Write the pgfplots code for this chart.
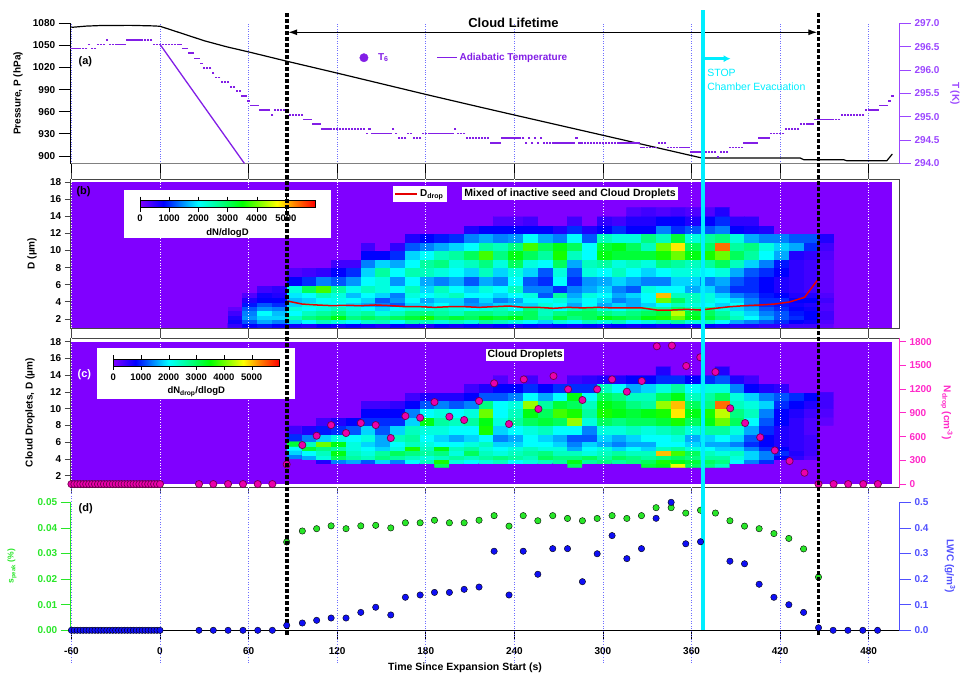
\documentclass[border=0pt]{standalone}
\usepackage{pgfplots}
\pgfplotsset{compat=1.18}
\usepackage{fontspec}
\setmainfont{Liberation Sans}
\usetikzlibrary{arrows.meta}

\definecolor{bgviolet}{RGB}{128,0,255}
\definecolor{tpurple}{RGB}{130,30,230}
\definecolor{taxis}{RGB}{155,70,255}
\definecolor{npink}{RGB}{255,40,200}
\definecolor{nfill}{RGB}{235,0,170}
\definecolor{ndark}{RGB}{110,0,80}
\definecolor{sgreen}{RGB}{40,230,40}
\definecolor{lblue}{RGB}{15,15,245}
\definecolor{lwcaxis}{RGB}{80,80,255}
\definecolor{gridblue}{RGB}{110,110,255}
\definecolor{cyanline}{RGB}{0,238,255}
\definecolor{frame}{RGB}{70,70,70}

\pgfplotsset{
  colormap={igor}{rgb255(0pt)=(128,0,255) rgb255(8pt)=(0,0,255) rgb255(14pt)=(0,128,255) rgb255(20pt)=(0,255,255) rgb255(28pt)=(0,255,128) rgb255(35pt)=(0,255,0) rgb255(47pt)=(255,255,0) rgb255(53pt)=(255,128,0) rgb255(60pt)=(255,0,0)},
  base/.style={scale only axis, width=828.3pt, xmin=-60.5, xmax=500.5,
    xtick={-60,0,60,120,180,240,300,360,420,480},
    tick align=outside,
    ticklabel style={font=\bfseries\fontsize{10}{12}\selectfont},
    /pgf/number format/assume math mode=true,
    /pgf/number format/1000 sep={},
    label style={font=\bfseries\fontsize{10}{12}\selectfont},
  },
  cbar/.style={colorbar horizontal, point meta min=0, point meta max=60},
  fix1/.style={/pgf/number format/fixed, /pgf/number format/fixed zerofill, /pgf/number format/precision=1},
  fix2/.style={/pgf/number format/fixed, /pgf/number format/fixed zerofill, /pgf/number format/precision=2},
}

\begin{document}
\begin{tikzpicture}
\useasboundingbox (0pt,0pt) rectangle (964pt,-673pt);

%%%%%%%%%%%%%%%% (a) pressure
\begin{axis}[base, at={(70.67pt,-163.5pt)}, anchor=south west, height=140.2pt,
  ymin=889.8, ymax=1080,
  axis x line*=bottom, axis y line*=left,
  x axis line style={draw=gray, line width=1.8pt},
  y axis line style={draw=black, line width=0.8pt},
  xticklabels={},
  ytick={900,930,960,990,1020,1050,1080},
  major tick length=12pt,
  tick style={black, line width=0.8pt},
  xmajorgrids, grid style={dotted, gridblue, line width=0.6pt},
  ylabel={Pressure, P (hPa)},
  ylabel style={at={(axis description cs:-0.0636,0.5)}, anchor=center},
]
\addplot[black, line width=1.2pt] coordinates {(-60,1074.5) (-50,1076.2) (-40,1077) (-20,1077.2) (-5,1076.5) (0,1076) (14.7,1066.4) (30,1056.3) (45.2,1048.1) (59.8,1041.3) (85.8,1028.6) (119.7,1012.6) (180.7,983.2) (216.8,966.3) (240,955.6) (300,928.1) (360,900.5) (367,897.3) (433.6,897.3) (436,895) (462.9,895) (465,893.6) (492.3,893.6) (496,902.7)};
\node[anchor=west, font=\bfseries\fontsize{11}{13}\selectfont] at (axis cs:-57.5,1028.6) {(a)};
\end{axis}

%%%%%%%%%%%%%%%% (a) temperature
\begin{axis}[base, at={(70.67pt,-163.5pt)}, anchor=south west, height=140.2pt,
  ymin=294, ymax=297, axis x line=none, axis y line*=right,
  y axis line style={draw=taxis, line width=0.8pt},
  ytick={294,294.5,295,295.5,296,296.5,297},
  yticklabel style={text=taxis, fix1},
  tick style={taxis, line width=0.8pt}, major tick length=12pt,
  ylabel={T (K)},
  ylabel style={text=taxis, at={(axis description cs:1.0677,0.5)}, anchor=center, rotate=180},
  clip=false,
  legend columns=2,
  legend style={at={(0.3485,0.7546)}, anchor=west, draw=none, fill=none, inner sep=0pt,
    font=\bfseries\fontsize{10}{12}\selectfont, text=tpurple,
    /tikz/every even column/.append style={column sep=46pt}},
]
\addplot[only marks, mark=-, mark size=1.2pt, mark options={tpurple, line width=1.6pt},
  legend image code/.code={\fill[tpurple] (4pt,0) circle (4.2pt); \path (16pt,0);}] coordinates {
(-60,296.46)(-58,296.46)(-56,296.46)(-54,296.46)(-52,296.46)(-50,296.46)(-48,296.55)(-46,296.46)(-44,296.46)(-42,296.55)(-40,296.55)(-38,296.55)(-36,296.64)(-34,296.55)(-32,296.55)(-30,296.55)(-28,296.55)(-26,296.55)(-24,296.55)(-22,296.64)(-20,296.64)(-18,296.64)(-16,296.64)(-14,296.64)(-12,296.64)(-10,296.64)(-8,296.64)(-6,296.64)(-4,296.55)(-2,296.55)(0,296.55)(2,296.55)(4,296.55)(6,296.55)(8,296.55)(10,296.55)(12,296.55)(14,296.55)(16,296.46)(18,296.46)(20,296.36)(22,296.36)(24,296.25)(26,296.25)(28,296.14)(30,296.04)(32,296.04)(34,296.04)(36,295.94)(38,295.84)(40,295.84)(42,295.74)(44,295.74)(46,295.74)(48,295.64)(50,295.64)(52,295.55)(54,295.55)(56,295.44)(58,295.44)(60,295.34)(62,295.24)(64,295.24)(66,295.24)(68,295.14)(70,295.14)(72,295.14)(74,295.14)(76,295.04)(78,295.14)(80,295.14)(82,295.14)(84,295.14)(86,295.14)(88,295.04)(90,295.04)(92,295.04)(94,295.04)(96,295.04)(98,294.94)(100,294.94)(102,294.94)(104,294.84)(106,294.84)(108,294.84)(110,294.74)(112,294.74)(114,294.74)(116,294.74)(118,294.74)(120,294.74)(122,294.74)(124,294.74)(126,294.74)(128,294.74)(130,294.74)(132,294.74)(134,294.74)(136,294.74)(138,294.74)(140,294.64)(142,294.74)(144,294.64)(146,294.64)(148,294.64)(150,294.64)(152,294.64)(154,294.64)(156,294.64)(158,294.74)(160,294.64)(162,294.54)(164,294.54)(166,294.54)(168,294.64)(170,294.64)(172,294.54)(174,294.54)(176,294.54)(178,294.64)(180,294.64)(182,294.64)(184,294.64)(186,294.64)(188,294.64)(190,294.64)(192,294.64)(194,294.64)(196,294.64)(198,294.64)(200,294.74)(202,294.64)(204,294.64)(206,294.64)(208,294.54)(210,294.54)(212,294.54)(214,294.54)(216,294.54)(218,294.54)(220,294.54)(222,294.54)(224,294.44)(226,294.44)(228,294.44)(230,294.44)(232,294.54)(234,294.54)(236,294.54)(238,294.54)(240,294.54)(242,294.54)(244,294.54)(246,294.54)(248,294.44)(250,294.54)(252,294.44)(254,294.54)(256,294.44)(258,294.54)(260,294.44)(262,294.44)(264,294.44)(266,294.44)(268,294.44)(270,294.44)(272,294.44)(274,294.44)(276,294.44)(278,294.44)(280,294.44)(282,294.54)(284,294.44)(286,294.44)(288,294.44)(290,294.44)(292,294.44)(294,294.44)(296,294.44)(298,294.44)(300,294.44)(302,294.44)(304,294.44)(306,294.44)(308,294.44)(310,294.44)(312,294.44)(314,294.44)(316,294.44)(318,294.44)(320,294.44)(322,294.44)(324,294.44)(326,294.34)(328,294.34)(330,294.34)(332,294.34)(334,294.34)(336,294.34)(338,294.44)(340,294.44)(342,294.44)(344,294.34)(346,294.34)(348,294.34)(350,294.34)(352,294.34)(354,294.34)(356,294.34)(358,294.34)(360,294.24)(362,294.24)(364,294.24)(366,294.24)(368,294.24)(370,294.24)(372,294.24)(374,294.24)(376,294.24)(378,294.14)(380,294.24)(382,294.24)(384,294.24)(386,294.34)(388,294.34)(390,294.34)(392,294.34)(394,294.34)(396,294.44)(398,294.44)(400,294.44)(402,294.44)(404,294.44)(406,294.54)(408,294.54)(410,294.54)(412,294.54)(414,294.64)(416,294.64)(418,294.64)(420,294.64)(422,294.64)(424,294.74)(426,294.74)(428,294.74)(430,294.74)(432,294.74)(434,294.84)(436,294.84)(438,294.84)(440,294.84)(442,294.84)(444,294.94)(446,294.94)(448,294.94)(450,294.94)(452,294.94)(454,294.94)(456,294.94)(458,294.94)(460,294.94)(462,295.04)(464,295.04)(466,295.04)(468,295.04)(470,295.04)(472,295.04)(474,295.04)(476,295.04)(478,295.14)(480,295.14)(482,295.14)(484,295.14)(486,295.14)(488,295.24)(490,295.24)(492,295.24)(494,295.34)(496,295.44)};
\addlegendentry{T\textsubscript{6}}
\addplot[tpurple, line width=1.3pt, legend image code/.code={\draw[tpurple, line width=1.3pt] (0pt,0) -- (19.7pt,0);}] coordinates {(0,296.55) (21.5,295.59) (57.2,294.0)};
\addlegendentry{Adiabatic Temperature}
\draw[{Latex[length=9pt,width=6pt]}-{Latex[length=9pt,width=6pt]}, line width=1.2pt] (axis cs:86.8,296.808) -- (axis cs:445.2,296.808);
\node[font=\bfseries\fontsize{13}{15}\selectfont] at (axis cs:239.4,297.0) {Cloud Lifetime};
\draw[-{Latex[length=7pt,width=7pt]}, cyanline, line width=2.6pt] (axis cs:369.2,296.243) -- (axis cs:386.5,296.243);
\node[anchor=west, text=cyanline, font=\fontsize{10.5}{12}\selectfont] at (axis cs:368.3,295.947) {STOP};
\node[anchor=west, text=cyanline, font=\fontsize{10.5}{12}\selectfont] at (axis cs:368.3,295.648) {Chamber Evacuation};
\end{axis}

%%%%%%%%%%%%%%%% (b)
\begin{axis}[base, cbar, at={(70.67pt,-328pt)}, anchor=south west, height=149pt,
  ymin=0.95, ymax=18.35, xticklabels={}, xtick pos=both, ytick={2,4,...,18}, ytick pos=left,
  major tick length=6pt, axis line style={draw=frame, line width=0.8pt}, tick style={frame, line width=0.8pt},
  ylabel={D (µm)},
  ylabel style={at={(axis description cs:-0.0467,0.5)}, anchor=center},
  colorbar style={at={(140pt,-199pt)}, anchor=south west, scale only axis, width=175pt, height=7pt,
    xtick={0,10,20,30,40,50}, xticklabels={0,1000,2000,3000,4000,5000},
    tick align=outside, major tick length=4pt, tick style={black},
    xticklabel style={font=\bfseries\fontsize{9.5}{11}\selectfont},
    xlabel={dN/dlogD}, xlabel style={font=\bfseries\fontsize{9.5}{11}\selectfont}},
  legend style={at={(0.3891,0.953)}, anchor=north west, fill=white, draw=none, inner sep=1.5pt,
    font=\bfseries\fontsize{10}{12}\selectfont},
]
\addplot[fill=bgviolet, draw=none, forget plot] coordinates {(-60,1) (496,1) (496,18) (-60,18)} --cycle;
\addplot[matrix plot*, point meta=explicit, mesh/rows=18, mesh/cols=41, mesh/ordering=y varies, forget plot] table[row sep=\\, meta=v] {
t d v\\
51 1.25 5\\51 1.75 7\\51 2.25 6\\51 2.75 4\\51 3.25 2\\51 3.75 0\\51 4.25 0\\51 4.75 0\\51 5.5 0\\51 6.5 0\\51 7.5 0\\51 8.5 0\\51 9.5 0\\51 10.5 0\\51 11.5 0\\51 12.5 0\\51 13.5 0\\51 14.5 0\\
61 1.25 8\\61 1.75 12\\61 2.25 15\\61 2.75 14\\61 3.25 12\\61 3.75 9\\61 4.25 6\\61 4.75 3\\61 5.5 0\\61 6.5 0\\61 7.5 0\\61 8.5 0\\61 9.5 0\\61 10.5 0\\61 11.5 0\\61 12.5 0\\61 13.5 0\\61 14.5 0\\
71 1.25 9\\71 1.75 16\\71 2.25 18\\71 2.75 20\\71 3.25 15\\71 3.75 12\\71 4.25 8\\71 4.75 7\\71 5.5 4\\71 6.5 0\\71 7.5 0\\71 8.5 0\\71 9.5 0\\71 10.5 0\\71 11.5 0\\71 12.5 0\\71 13.5 0\\71 14.5 0\\
81 1.25 8\\81 1.75 14\\81 2.25 18\\81 2.75 17\\81 3.25 14\\81 3.75 10\\81 4.25 8\\81 4.75 6\\81 5.5 5\\81 6.5 0\\81 7.5 0\\81 8.5 0\\81 9.5 0\\81 10.5 0\\81 11.5 0\\81 12.5 0\\81 13.5 0\\81 14.5 0\\
91 1.25 7\\91 1.75 18\\91 2.25 24\\91 2.75 20\\91 3.25 22\\91 3.75 18\\91 4.25 17\\91 4.75 19\\91 5.5 22\\91 6.5 8\\91 7.5 3\\91 8.5 0\\91 9.5 0\\91 10.5 0\\91 11.5 0\\91 12.5 0\\91 13.5 0\\91 14.5 0\\
101 1.25 6\\101 1.75 20\\101 2.25 28\\101 2.75 24\\101 3.25 20\\101 3.75 22\\101 4.25 18\\101 4.75 20\\101 5.5 30\\101 6.5 10\\101 7.5 4\\101 8.5 0\\101 9.5 0\\101 10.5 0\\101 11.5 0\\101 12.5 0\\101 13.5 0\\101 14.5 0\\
111 1.25 8\\111 1.75 24\\111 2.25 30\\111 2.75 26\\111 3.25 22\\111 3.75 21\\111 4.25 20\\111 4.75 24\\111 5.5 38\\111 6.5 14\\111 7.5 5\\111 8.5 0\\111 9.5 0\\111 10.5 0\\111 11.5 0\\111 12.5 0\\111 13.5 0\\111 14.5 0\\
121 1.25 7\\121 1.75 22\\121 2.25 34\\121 2.75 28\\121 3.25 24\\121 3.75 20\\121 4.25 21\\121 4.75 22\\121 5.5 26\\121 6.5 12\\121 7.5 8\\121 8.5 4\\121 9.5 0\\121 10.5 0\\121 11.5 0\\121 12.5 0\\121 13.5 0\\121 14.5 0\\
131 1.25 8\\131 1.75 20\\131 2.25 28\\131 2.75 24\\131 3.25 22\\131 3.75 18\\131 4.25 20\\131 4.75 17\\131 5.5 21\\131 6.5 15\\131 7.5 10\\131 8.5 4\\131 9.5 0\\131 10.5 0\\131 11.5 0\\131 12.5 0\\131 13.5 0\\131 14.5 0\\
141 1.25 7\\141 1.75 23\\141 2.25 30\\141 2.75 26\\141 3.25 20\\141 3.75 16\\141 4.25 18\\141 4.75 20\\141 5.5 24\\141 6.5 20\\141 7.5 18\\141 8.5 14\\141 9.5 8\\141 10.5 4\\141 11.5 0\\141 12.5 0\\141 13.5 0\\141 14.5 0\\
151 1.25 6\\151 1.75 24\\151 2.25 28\\151 2.75 22\\151 3.25 18\\151 3.75 14\\151 4.25 12\\151 4.75 18\\151 5.5 22\\151 6.5 22\\151 7.5 26\\151 8.5 18\\151 9.5 8\\151 10.5 0\\151 11.5 0\\151 12.5 0\\151 13.5 0\\151 14.5 0\\
161 1.25 8\\161 1.75 20\\161 2.25 30\\161 2.75 24\\161 3.25 20\\161 3.75 12\\161 4.25 15\\161 4.75 14\\161 5.5 20\\161 6.5 15\\161 7.5 20\\161 8.5 16\\161 9.5 10\\161 10.5 5\\161 11.5 0\\161 12.5 0\\161 13.5 0\\161 14.5 0\\
171 1.25 7\\171 1.75 25\\171 2.25 32\\171 2.75 28\\171 3.25 22\\171 3.75 18\\171 4.25 20\\171 4.75 22\\171 5.5 24\\171 6.5 20\\171 7.5 25\\171 8.5 20\\171 9.5 18\\171 10.5 12\\171 11.5 6\\171 12.5 0\\171 13.5 0\\171 14.5 0\\
181 1.25 6\\181 1.75 24\\181 2.25 36\\181 2.75 28\\181 3.25 22\\181 3.75 18\\181 4.25 16\\181 4.75 20\\181 5.5 18\\181 6.5 16\\181 7.5 24\\181 8.5 26\\181 9.5 20\\181 10.5 14\\181 11.5 8\\181 12.5 0\\181 13.5 0\\181 14.5 0\\
191 1.25 8\\191 1.75 22\\191 2.25 30\\191 2.75 26\\191 3.25 24\\191 3.75 20\\191 4.25 18\\191 4.75 22\\191 5.5 24\\191 6.5 14\\191 7.5 22\\191 8.5 28\\191 9.5 24\\191 10.5 16\\191 11.5 9\\191 12.5 0\\191 13.5 0\\191 14.5 0\\
201 1.25 7\\201 1.75 24\\201 2.25 32\\201 2.75 24\\201 3.25 22\\201 3.75 18\\201 4.25 18\\201 4.75 24\\201 5.5 20\\201 6.5 16\\201 7.5 20\\201 8.5 22\\201 9.5 26\\201 10.5 18\\201 11.5 10\\201 12.5 0\\201 13.5 0\\201 14.5 0\\
211 1.25 8\\211 1.75 22\\211 2.25 30\\211 2.75 28\\211 3.25 20\\211 3.75 15\\211 4.25 14\\211 4.75 20\\211 5.5 18\\211 6.5 12\\211 7.5 18\\211 8.5 24\\211 9.5 30\\211 10.5 20\\211 11.5 14\\211 12.5 6\\211 13.5 0\\211 14.5 0\\
221 1.25 7\\221 1.75 26\\221 2.25 34\\221 2.75 28\\221 3.25 22\\221 3.75 16\\221 4.25 18\\221 4.75 20\\221 5.5 22\\221 6.5 16\\221 7.5 24\\221 8.5 28\\221 9.5 38\\221 10.5 26\\221 11.5 16\\221 12.5 8\\221 13.5 0\\221 14.5 0\\
231 1.25 8\\231 1.75 24\\231 2.25 32\\231 2.75 26\\231 3.25 24\\231 3.75 18\\231 4.25 14\\231 4.75 18\\231 5.5 20\\231 6.5 14\\231 7.5 18\\231 8.5 22\\231 9.5 28\\231 10.5 24\\231 11.5 14\\231 12.5 8\\231 13.5 3\\231 14.5 0\\
241 1.25 7\\241 1.75 22\\241 2.25 34\\241 2.75 28\\241 3.25 20\\241 3.75 18\\241 4.25 16\\241 4.75 20\\241 5.5 24\\241 6.5 20\\241 7.5 22\\241 8.5 30\\241 9.5 34\\241 10.5 28\\241 11.5 15\\241 12.5 8\\241 13.5 3\\241 14.5 0\\
251 1.25 8\\251 1.75 20\\251 2.25 30\\251 2.75 30\\251 3.25 28\\251 3.75 18\\251 4.25 20\\251 4.75 22\\251 5.5 14\\251 6.5 12\\251 7.5 18\\251 8.5 22\\251 9.5 30\\251 10.5 38\\251 11.5 20\\251 12.5 8\\251 13.5 4\\251 14.5 0\\
261 1.25 7\\261 1.75 18\\261 2.25 26\\261 2.75 24\\261 3.25 24\\261 3.75 22\\261 4.25 20\\261 4.75 12\\261 5.5 14\\261 6.5 10\\261 7.5 12\\261 8.5 20\\261 9.5 26\\261 10.5 30\\261 11.5 16\\261 12.5 8\\261 13.5 0\\261 14.5 0\\
271 1.25 8\\271 1.75 22\\271 2.25 32\\271 2.75 28\\271 3.25 20\\271 3.75 20\\271 4.25 22\\271 4.75 26\\271 5.5 10\\271 6.5 20\\271 7.5 22\\271 8.5 30\\271 9.5 36\\271 10.5 34\\271 11.5 14\\271 12.5 6\\271 13.5 0\\271 14.5 0\\
281 1.25 7\\281 1.75 20\\281 2.25 28\\281 2.75 30\\281 3.25 24\\281 3.75 16\\281 4.25 18\\281 4.75 16\\281 5.5 14\\281 6.5 10\\281 7.5 12\\281 8.5 16\\281 9.5 24\\281 10.5 30\\281 11.5 20\\281 12.5 10\\281 13.5 4\\281 14.5 0\\
291 1.25 8\\291 1.75 24\\291 2.25 30\\291 2.75 30\\291 3.25 28\\291 3.75 20\\291 4.25 20\\291 4.75 22\\291 5.5 16\\291 6.5 15\\291 7.5 22\\291 8.5 24\\291 9.5 20\\291 10.5 20\\291 11.5 12\\291 12.5 6\\291 13.5 0\\291 14.5 0\\
301 1.25 7\\301 1.75 22\\301 2.25 34\\301 2.75 28\\301 3.25 22\\301 3.75 16\\301 4.25 18\\301 4.75 20\\301 5.5 18\\301 6.5 16\\301 7.5 20\\301 8.5 26\\301 9.5 34\\301 10.5 32\\301 11.5 24\\301 12.5 8\\301 13.5 5\\301 14.5 0\\
311 1.25 8\\311 1.75 24\\311 2.25 32\\311 2.75 26\\311 3.25 20\\311 3.75 18\\311 4.25 14\\311 4.75 16\\311 5.5 14\\311 6.5 18\\311 7.5 24\\311 8.5 22\\311 9.5 32\\311 10.5 34\\311 11.5 22\\311 12.5 10\\311 13.5 4\\311 14.5 0\\
321 1.25 7\\321 1.75 20\\321 2.25 30\\321 2.75 28\\321 3.25 24\\321 3.75 16\\321 4.25 16\\321 4.75 18\\321 5.5 12\\321 6.5 16\\321 7.5 20\\321 8.5 24\\321 9.5 32\\321 10.5 30\\321 11.5 22\\321 12.5 8\\321 13.5 6\\321 14.5 3\\
331 1.25 8\\331 1.75 22\\331 2.25 34\\331 2.75 30\\331 3.25 26\\331 3.75 18\\331 4.25 20\\331 4.75 20\\331 5.5 22\\331 6.5 14\\331 7.5 18\\331 8.5 22\\331 9.5 32\\331 10.5 24\\331 11.5 28\\331 12.5 8\\331 13.5 6\\331 14.5 4\\
341 1.25 7\\341 1.75 24\\341 2.25 36\\341 2.75 32\\341 3.25 26\\341 3.75 20\\341 4.25 40\\341 4.75 50\\341 5.5 20\\341 6.5 14\\341 7.5 20\\341 8.5 28\\341 9.5 36\\341 10.5 40\\341 11.5 24\\341 12.5 14\\341 13.5 8\\341 14.5 3\\
351 1.25 8\\351 1.75 26\\351 2.25 40\\351 2.75 44\\351 3.25 30\\351 3.75 24\\351 4.25 30\\351 4.75 24\\351 5.5 20\\351 6.5 18\\351 7.5 22\\351 8.5 26\\351 9.5 40\\351 10.5 48\\351 11.5 32\\351 12.5 10\\351 13.5 8\\351 14.5 4\\
361 1.25 7\\361 1.75 22\\361 2.25 34\\361 2.75 32\\361 3.25 26\\361 3.75 22\\361 4.25 24\\361 4.75 24\\361 5.5 16\\361 6.5 18\\361 7.5 22\\361 8.5 24\\361 9.5 34\\361 10.5 30\\361 11.5 22\\361 12.5 12\\361 13.5 6\\361 14.5 3\\
371 1.25 8\\371 1.75 24\\371 2.25 32\\371 2.75 30\\371 3.25 28\\371 3.75 20\\371 4.25 22\\371 4.75 22\\371 5.5 18\\371 6.5 14\\371 7.5 20\\371 8.5 26\\371 9.5 36\\371 10.5 30\\371 11.5 26\\371 12.5 12\\371 13.5 8\\371 14.5 3\\
381 1.25 7\\381 1.75 20\\381 2.25 28\\381 2.75 26\\381 3.25 22\\381 3.75 18\\381 4.25 20\\381 4.75 18\\381 5.5 14\\381 6.5 16\\381 7.5 22\\381 8.5 30\\381 9.5 40\\381 10.5 54\\381 11.5 28\\381 12.5 14\\381 13.5 10\\381 14.5 6\\
391 1.25 6\\391 1.75 16\\391 2.25 24\\391 2.75 22\\391 3.25 18\\391 3.75 20\\391 4.25 18\\391 4.75 14\\391 5.5 10\\391 6.5 12\\391 7.5 16\\391 8.5 24\\391 9.5 30\\391 10.5 26\\391 11.5 22\\391 12.5 8\\391 13.5 5\\391 14.5 0\\
401 1.25 6\\401 1.75 14\\401 2.25 20\\401 2.75 18\\401 3.25 16\\401 3.75 14\\401 4.25 14\\401 4.75 12\\401 5.5 10\\401 6.5 10\\401 7.5 12\\401 8.5 18\\401 9.5 26\\401 10.5 28\\401 11.5 16\\401 12.5 7\\401 13.5 5\\401 14.5 0\\
411 1.25 5\\411 1.75 12\\411 2.25 16\\411 2.75 14\\411 3.25 12\\411 3.75 10\\411 4.25 10\\411 4.75 9\\411 5.5 8\\411 6.5 8\\411 7.5 10\\411 8.5 14\\411 9.5 20\\411 10.5 22\\411 11.5 14\\411 12.5 6\\411 13.5 0\\411 14.5 0\\
421 1.25 5\\421 1.75 10\\421 2.25 12\\421 2.75 12\\421 3.25 10\\421 3.75 9\\421 4.25 10\\421 4.75 8\\421 5.5 6\\421 6.5 6\\421 7.5 8\\421 8.5 9\\421 9.5 16\\421 10.5 18\\421 11.5 14\\421 12.5 0\\421 13.5 0\\421 14.5 0\\
431 1.25 4\\431 1.75 8\\431 2.25 10\\431 2.75 9\\431 3.25 8\\431 3.75 7\\431 4.25 8\\431 4.75 6\\431 5.5 5\\431 6.5 5\\431 7.5 5\\431 8.5 5\\431 9.5 6\\431 10.5 16\\431 11.5 12\\431 12.5 0\\431 13.5 0\\431 14.5 0\\
441 1.25 4\\441 1.75 7\\441 2.25 8\\441 2.75 8\\441 3.25 7\\441 3.75 6\\441 4.25 8\\441 4.75 6\\441 5.5 4\\441 6.5 4\\441 7.5 4\\441 8.5 4\\441 9.5 5\\441 10.5 10\\441 11.5 12\\441 12.5 0\\441 13.5 0\\441 14.5 0\\
451 1.25 2\\451 1.75 3\\451 2.25 4\\451 2.75 4\\451 3.25 3\\451 3.75 3\\451 4.25 4\\451 4.75 3\\451 5.5 2\\451 6.5 2\\451 7.5 2\\451 8.5 2\\451 9.5 3\\451 10.5 4\\451 11.5 6\\451 12.5 0\\451 13.5 0\\451 14.5 0\\
};
\pgfplotsinvokeforeach{-60,0,60,120,180,240,300,360,420,480}{\draw[white, dotted, line width=0.7pt] (axis cs:#1,0.95) -- (axis cs:#1,18.35);}
\fill[white] (axis cs:-24.4,11.42) rectangle (axis cs:115.6,17.07);
\node[fill=white, inner sep=2pt, font=\bfseries\fontsize{10.5}{12}\selectfont] at (axis cs:277.7,16.66) {Mixed of inactive seed and Cloud Droplets};
\node[anchor=west, font=\bfseries\fontsize{11}{13}\selectfont] at (axis cs:-58.9,16.83) {(b)};
\addplot[red!90!black, line width=1.5pt, legend image code/.code={\draw[red!90!black, line width=1.5pt] (0pt,0) -- (22pt,0);}] coordinates {(86.3,4.1)(96.2,3.75)(106.1,3.64)(116.1,3.56)(126,3.6)(136,3.56)(146,3.64)(156.3,3.56)(166.2,3.44)(176.2,3.44)(185.9,3.36)(196,3.44)(206,3.44)(216.1,3.36)(226.3,3.44)(236.4,3.52)(246.4,3.36)(256.3,3.36)(266.5,3.25)(276.4,3.36)(286.1,3.3)(296.1,3.36)(306.2,3.3)(316.2,3.3)(326.3,3.3)(336.5,3.05)(346.7,3.05)(356.4,3.13)(365.9,3.05)(376.2,3.25)(386.2,3.44)(396.3,3.56)(406.5,3.64)(416.4,3.75)(426.4,3.99)(436.5,4.53)(446,6.7)};
\addlegendentry{D\textsubscript{drop}}
\end{axis}

%%%%%%%%%%%%%%%% (c) left
\begin{axis}[base, cbar, at={(70.67pt,-487.5pt)}, anchor=south west, height=149.5pt,
  ymin=0.59, ymax=18.44, xticklabels={}, xtick pos=both, ytick={2,4,...,18}, ytick pos=left,
  major tick length=6pt, axis line style={draw=frame, line width=0.8pt}, tick style={frame, line width=0.8pt},
  ylabel={Cloud Droplets, D (µm)},
  ylabel style={at={(axis description cs:-0.0491,0.5)}, anchor=center},
  colorbar style={at={(113.3pt,-357.3pt)}, anchor=south west, scale only axis, width=166pt, height=6.6pt,
    xtick={0,10,20,30,40,50}, xticklabels={0,1000,2000,3000,4000,5000},
    tick align=outside, major tick length=4pt, tick style={black},
    xticklabel style={font=\bfseries\fontsize{9.5}{11}\selectfont},
    xlabel={dN\textsubscript{drop}/dlogD}, xlabel style={font=\bfseries\fontsize{9.5}{11}\selectfont}},
]
\addplot[fill=bgviolet, draw=none] coordinates {(-60,1) (496,1) (496,18) (-60,18)} --cycle;
\addplot[matrix plot*, point meta=explicit, mesh/rows=15, mesh/cols=37, mesh/ordering=y varies] table[row sep=\\, meta=v] {
t d v\\
91 3.25 0\\91 3.75 0\\91 4.25 14\\91 4.75 18\\91 5.25 20\\91 5.75 32\\91 6.5 10\\91 7.5 4\\91 8.5 0\\91 9.5 0\\91 10.5 0\\91 11.5 0\\91 12.5 0\\91 13.5 0\\91 14.5 0\\
101 3.25 0\\101 3.75 0\\101 4.25 16\\101 4.75 20\\101 5.25 32\\101 5.75 24\\101 6.5 14\\101 7.5 6\\101 8.5 0\\101 9.5 0\\101 10.5 0\\101 11.5 0\\101 12.5 0\\101 13.5 0\\101 14.5 0\\
111 3.25 0\\111 3.75 6\\111 4.25 22\\111 4.75 24\\111 5.25 28\\111 5.75 40\\111 6.5 18\\111 7.5 9\\111 8.5 4\\111 9.5 0\\111 10.5 0\\111 11.5 0\\111 12.5 0\\111 13.5 0\\111 14.5 0\\
121 3.25 0\\121 3.75 14\\121 4.25 30\\121 4.75 34\\121 5.25 26\\121 5.75 34\\121 6.5 22\\121 7.5 10\\121 8.5 6\\121 9.5 0\\121 10.5 0\\121 11.5 0\\121 12.5 0\\121 13.5 0\\121 14.5 0\\
131 3.25 0\\131 3.75 16\\131 4.25 26\\131 4.75 24\\131 5.25 22\\131 5.75 22\\131 6.5 20\\131 7.5 12\\131 8.5 8\\131 9.5 0\\131 10.5 0\\131 11.5 0\\131 12.5 0\\131 13.5 0\\131 14.5 0\\
141 3.25 0\\141 3.75 12\\141 4.25 24\\141 4.75 22\\141 5.25 20\\141 5.75 18\\141 6.5 22\\141 7.5 18\\141 8.5 10\\141 9.5 8\\141 10.5 4\\141 11.5 0\\141 12.5 0\\141 13.5 0\\141 14.5 0\\
151 3.25 0\\151 3.75 18\\151 4.25 28\\151 4.75 26\\151 5.25 18\\151 5.75 16\\151 6.5 16\\151 7.5 12\\151 8.5 10\\151 9.5 8\\151 10.5 4\\151 11.5 0\\151 12.5 0\\151 13.5 0\\151 14.5 0\\
161 3.25 0\\161 3.75 14\\161 4.25 26\\161 4.75 30\\161 5.25 22\\161 5.75 20\\161 6.5 24\\161 7.5 18\\161 8.5 10\\161 9.5 8\\161 10.5 5\\161 11.5 0\\161 12.5 0\\161 13.5 0\\161 14.5 0\\
171 3.25 0\\171 3.75 20\\171 4.25 24\\171 4.75 28\\171 5.25 36\\171 5.75 24\\171 6.5 26\\171 7.5 24\\171 8.5 18\\171 9.5 14\\171 10.5 8\\171 11.5 4\\171 12.5 0\\171 13.5 0\\171 14.5 0\\
181 3.25 0\\181 3.75 24\\181 4.25 22\\181 4.75 26\\181 5.25 24\\181 5.75 22\\181 6.5 20\\181 7.5 22\\181 8.5 34\\181 9.5 20\\181 10.5 12\\181 11.5 6\\181 12.5 0\\181 13.5 0\\181 14.5 0\\
191 3.25 30\\191 3.75 36\\191 4.25 24\\191 4.75 28\\191 5.25 34\\191 5.75 20\\191 6.5 18\\191 7.5 22\\191 8.5 26\\191 9.5 22\\191 10.5 14\\191 11.5 6\\191 12.5 0\\191 13.5 0\\191 14.5 0\\
201 3.25 0\\201 3.75 22\\201 4.25 26\\201 4.75 22\\201 5.25 24\\201 5.75 20\\201 6.5 16\\201 7.5 20\\201 8.5 24\\201 9.5 20\\201 10.5 12\\201 11.5 6\\201 12.5 0\\201 13.5 0\\201 14.5 0\\
211 3.25 0\\211 3.75 20\\211 4.25 24\\211 4.75 30\\211 5.25 26\\211 5.75 22\\211 6.5 18\\211 7.5 20\\211 8.5 26\\211 9.5 22\\211 10.5 14\\211 11.5 8\\211 12.5 4\\211 13.5 0\\211 14.5 0\\
221 3.25 0\\221 3.75 22\\221 4.25 26\\221 4.75 24\\221 5.25 22\\221 5.75 24\\221 6.5 20\\221 7.5 36\\221 8.5 34\\221 9.5 40\\221 10.5 28\\221 11.5 12\\221 12.5 6\\221 13.5 0\\221 14.5 0\\
231 3.25 0\\231 3.75 24\\231 4.25 28\\231 4.75 22\\231 5.25 20\\231 5.75 18\\231 6.5 14\\231 7.5 18\\231 8.5 22\\231 9.5 20\\231 10.5 20\\231 11.5 12\\231 12.5 8\\231 13.5 3\\231 14.5 0\\
241 3.25 0\\241 3.75 20\\241 4.25 26\\241 4.75 24\\241 5.25 22\\241 5.75 18\\241 6.5 16\\241 7.5 20\\241 8.5 26\\241 9.5 24\\241 10.5 22\\241 11.5 14\\241 12.5 8\\241 13.5 0\\241 14.5 0\\
251 3.25 0\\251 3.75 22\\251 4.25 24\\251 4.75 26\\251 5.25 24\\251 5.75 20\\251 6.5 20\\251 7.5 22\\251 8.5 30\\251 9.5 34\\251 10.5 42\\251 11.5 20\\251 12.5 10\\251 13.5 4\\251 14.5 0\\
261 3.25 0\\261 3.75 24\\261 4.25 30\\261 4.75 28\\261 5.25 22\\261 5.75 20\\261 6.5 18\\261 7.5 24\\261 8.5 32\\261 9.5 30\\261 10.5 26\\261 11.5 16\\261 12.5 8\\261 13.5 0\\261 14.5 0\\
271 3.25 0\\271 3.75 26\\271 4.25 28\\271 4.75 24\\271 5.25 22\\271 5.75 18\\271 6.5 16\\271 7.5 20\\271 8.5 30\\271 9.5 38\\271 10.5 32\\271 11.5 20\\271 12.5 10\\271 13.5 0\\271 14.5 0\\
281 3.25 30\\281 3.75 34\\281 4.25 28\\281 4.75 24\\281 5.25 16\\281 5.75 14\\281 6.5 12\\281 7.5 20\\281 8.5 42\\281 9.5 36\\281 10.5 30\\281 11.5 34\\281 12.5 10\\281 13.5 4\\281 14.5 0\\
291 3.25 0\\291 3.75 26\\291 4.25 30\\291 4.75 22\\291 5.25 20\\291 5.75 18\\291 6.5 12\\291 7.5 14\\291 8.5 22\\291 9.5 26\\291 10.5 24\\291 11.5 20\\291 12.5 10\\291 13.5 5\\291 14.5 0\\
301 3.25 0\\301 3.75 28\\301 4.25 26\\301 4.75 24\\301 5.25 22\\301 5.75 16\\301 6.5 18\\301 7.5 22\\301 8.5 30\\301 9.5 36\\301 10.5 34\\301 11.5 30\\301 12.5 24\\301 13.5 6\\301 14.5 0\\
311 3.25 0\\311 3.75 26\\311 4.25 30\\311 4.75 26\\311 5.25 18\\311 5.75 14\\311 6.5 16\\311 7.5 22\\311 8.5 28\\311 9.5 34\\311 10.5 32\\311 11.5 28\\311 12.5 20\\311 13.5 6\\311 14.5 0\\
321 3.25 0\\321 3.75 28\\321 4.25 28\\321 4.75 24\\321 5.25 20\\321 5.75 16\\321 6.5 18\\321 7.5 24\\321 8.5 30\\321 9.5 32\\321 10.5 28\\321 11.5 24\\321 12.5 16\\321 13.5 8\\321 14.5 0\\
331 3.25 32\\331 3.75 30\\331 4.25 26\\331 4.75 24\\331 5.25 18\\331 5.75 16\\331 6.5 20\\331 7.5 22\\331 8.5 30\\331 9.5 34\\331 10.5 26\\331 11.5 24\\331 12.5 18\\331 13.5 8\\331 14.5 0\\
341 3.25 34\\341 3.75 36\\341 4.25 28\\341 4.75 50\\341 5.25 24\\341 5.75 20\\341 6.5 20\\341 7.5 24\\341 8.5 32\\341 9.5 36\\341 10.5 42\\341 11.5 30\\341 12.5 22\\341 13.5 10\\341 14.5 6\\
351 3.25 46\\351 3.75 34\\351 4.25 30\\351 4.75 38\\351 5.25 26\\351 5.75 20\\351 6.5 22\\351 7.5 26\\351 8.5 36\\351 9.5 48\\351 10.5 50\\351 11.5 34\\351 12.5 26\\351 13.5 10\\351 14.5 0\\
361 3.25 30\\361 3.75 32\\361 4.25 28\\361 4.75 30\\361 5.25 22\\361 5.75 18\\361 6.5 16\\361 7.5 22\\361 8.5 30\\361 9.5 34\\361 10.5 30\\361 11.5 24\\361 12.5 20\\361 13.5 8\\361 14.5 0\\
371 3.25 28\\371 3.75 30\\371 4.25 26\\371 4.75 24\\371 5.25 20\\371 5.75 16\\371 6.5 18\\371 7.5 26\\371 8.5 34\\371 9.5 36\\371 10.5 28\\371 11.5 26\\371 12.5 22\\371 13.5 10\\371 14.5 0\\
381 3.25 24\\381 3.75 28\\381 4.25 26\\381 4.75 22\\381 5.25 18\\381 5.75 16\\381 6.5 20\\381 7.5 26\\381 8.5 40\\381 9.5 44\\381 10.5 54\\381 11.5 30\\381 12.5 22\\381 13.5 12\\381 14.5 6\\
391 3.25 0\\391 3.75 20\\391 4.25 22\\391 4.75 24\\391 5.25 18\\391 5.75 14\\391 6.5 18\\391 7.5 22\\391 8.5 30\\391 9.5 28\\391 10.5 24\\391 11.5 22\\391 12.5 14\\391 13.5 6\\391 14.5 0\\
401 3.25 0\\401 3.75 14\\401 4.25 18\\401 4.75 18\\401 5.25 14\\401 5.75 10\\401 6.5 12\\401 7.5 16\\401 8.5 20\\401 9.5 24\\401 10.5 22\\401 11.5 18\\401 12.5 8\\401 13.5 4\\401 14.5 0\\
411 3.25 0\\411 3.75 10\\411 4.25 14\\411 4.75 14\\411 5.25 10\\411 5.75 8\\411 6.5 8\\411 7.5 10\\411 8.5 12\\411 9.5 14\\411 10.5 18\\411 11.5 14\\411 12.5 6\\411 13.5 0\\411 14.5 0\\
421 3.25 0\\421 3.75 0\\421 4.25 8\\421 4.75 10\\421 5.25 8\\421 5.75 6\\421 6.5 6\\421 7.5 6\\421 8.5 8\\421 9.5 8\\421 10.5 10\\421 11.5 12\\421 12.5 5\\421 13.5 0\\421 14.5 0\\
431 3.25 0\\431 3.75 0\\431 4.25 5\\431 4.75 6\\431 5.25 5\\431 5.75 5\\431 6.5 5\\431 7.5 5\\431 8.5 5\\431 9.5 6\\431 10.5 8\\431 11.5 10\\431 12.5 0\\431 13.5 0\\431 14.5 0\\
441 3.25 0\\441 3.75 0\\441 4.25 3\\441 4.75 4\\441 5.25 4\\441 5.75 4\\441 6.5 4\\441 7.5 3\\441 8.5 3\\441 9.5 4\\441 10.5 6\\441 11.5 8\\441 12.5 0\\441 13.5 0\\441 14.5 0\\
451 3.25 0\\451 3.75 0\\451 4.25 0\\451 4.75 0\\451 5.25 0\\451 5.75 0\\451 6.5 0\\451 7.5 0\\451 8.5 2\\451 9.5 3\\451 10.5 4\\451 11.5 4\\451 12.5 0\\451 13.5 0\\451 14.5 0\\
};
\pgfplotsinvokeforeach{-60,0,60,120,180,240,300,360,420,480}{\draw[white, dotted, line width=0.7pt] (axis cs:#1,0.59) -- (axis cs:#1,18.44);}
\fill[white] (axis cs:-42.7,11.16) rectangle (axis cs:91.5,17.21);
\node[fill=white, inner sep=1.5pt, font=\bfseries\fontsize{10.5}{12}\selectfont] at (axis cs:247.3,16.41) {Cloud Droplets};
\node[anchor=west, text=white, font=\bfseries\fontsize{11}{13}\selectfont] at (axis cs:-58.2,14.02) {(c)};
\end{axis}

%%%%%%%%%%%%%%%% (c) right
\begin{axis}[base, at={(70.67pt,-487.5pt)}, anchor=south west, height=149.5pt,
  ymin=-43.4, ymax=1846.6, axis x line=none, axis y line*=right,
  y axis line style={draw=npink, line width=0.8pt},
  ytick={0,300,600,900,1200,1500,1800},
  yticklabel style={text=npink},
  tick style={npink, line width=0.8pt}, major tick length=7pt,
  ylabel={N\textsubscript{drop} (cm\textsuperscript{-3})},
  ylabel style={text=npink, at={(axis description cs:1.0576,0.5)}, anchor=center, rotate=180},
]
\addplot[only marks, mark=*, mark size=3.6pt, mark options={fill=nfill, draw=ndark, line width=0.7pt}] coordinates {
(-60,0)(-58,0)(-56,0)(-54,0)(-52,0)(-50,0)(-48,0)(-46,0)(-44,0)(-42,0)(-40,0)(-38,0)(-36,0)(-34,0)(-32,0)(-30,0)(-28,0)(-26,0)(-24,0)(-22,0)(-20,0)(-18,0)(-16,0)(-14,0)(-12,0)(-10,0)(-8,0)(-6,0)(-4,0)(-2,0)(0,0)
(26.4,0)(36.1,0)(46.1,0)(56.2,0)(66.2,0)(76.1,0)(85.8,249)(96.4,493)(106.1,611)(115.9,746)(126,645)(136,772)(146.1,746)(156.3,582)(166.2,860)(176.2,839)(185.9,1037)(196,852)(206,810)(216.1,1050)(226.3,1274)(236.4,759)(246.4,1324)(256.3,949)(266.5,1366)(276.4,1198)(286.1,1063)(296.1,1198)(306.2,1324)(316.2,1168)(326.3,1303)(336.5,1742)(346.7,1750)(356.4,1493)(365.9,1603)(376.2,1417)(386.2,958)(396.3,772)(406.5,591)(416.4,426)(426.4,291)(436.5,143)(446,0)(456.2,0)(466.1,0)(476.3,0)(486.2,0)};
\end{axis}

%%%%%%%%%%%%%%%% (d) left
\begin{axis}[base, at={(70.67pt,-630.3pt)}, anchor=south west, height=128pt,
  ymin=0, ymax=0.05, axis x line*=bottom, axis y line*=left,
  x axis line style={draw=black, line width=0.8pt},
  y axis line style={draw=sgreen, line width=0.8pt},
  scaled y ticks=false,
  ytick={0,0.01,0.02,0.03,0.04,0.05},
  yticklabel style={text=sgreen, fix2},
  xticklabel style={yshift=-4pt},
  ytick style={sgreen, line width=0.8pt}, xtick style={black, line width=0.8pt},
  major tick length=10pt,
  ylabel={s\textsubscript{peak} (\%)},
  ylabel style={text=sgreen, font=\bfseries\fontsize{8.5}{10}\selectfont, at={(axis description cs:-0.0708,0.5)}, anchor=center},
  xlabel={Time Since Expansion Start (s)},
  xlabel style={font=\bfseries\fontsize{10.5}{12}\selectfont, at={(axis description cs:0.4761,-0.2945)}, anchor=center},
  clip=false,
]
\pgfplotsinvokeforeach{-60,0,60,120,180,240,300,360,420,480}{\draw[gridblue, dotted, line width=0.6pt] (axis cs:#1,0.0556) -- (axis cs:#1,-0.0128);}
\node[anchor=west, font=\bfseries\fontsize{11}{13}\selectfont] at (axis cs:-57.5,0.0474) {(d)};
\addplot[only marks, mark=*, mark size=3.2pt, mark options={fill=sgreen, draw=none}] coordinates {
(85.8,0.0345)(96.4,0.0388)(106.1,0.0397)(115.9,0.0408)(126,0.0397)(136,0.0408)(146.1,0.041)(156.3,0.040)(166.2,0.042)(176.2,0.042)(185.9,0.043)(196,0.042)(206,0.042)(216.1,0.043)(226.3,0.0448)(236.4,0.0407)(246,0.0448)(255.9,0.0428)(266,0.0448)(276,0.0437)(286.1,0.0428)(296.1,0.0437)(306.2,0.0448)(316.2,0.0437)(326.1,0.0448)(336,0.0479)(346.2,0.0479)(356.1,0.0458)(366.1,0.0469)(376.2,0.0458)(386,0.0428)(395.9,0.0407)(405.8,0.0397)(415.8,0.0378)(425.9,0.0359)(435.9,0.0318)(446,0.0208)};
\end{axis}

%%%%%%%%%%%%%%%% (d) right
\begin{axis}[base, at={(70.67pt,-630.3pt)}, anchor=south west, height=128pt,
  ymin=0, ymax=0.5, axis x line=none, axis y line*=right,
  y axis line style={draw=lwcaxis, line width=0.8pt},
  ytick={0,0.1,0.2,0.3,0.4,0.5},
  yticklabel style={text=lwcaxis, fix1},
  tick style={lwcaxis, line width=0.8pt}, major tick length=12pt,
  ylabel={LWC (g/m\textsuperscript{3})},
  ylabel style={text=lwcaxis, at={(axis description cs:1.0616,0.5)}, anchor=center, rotate=180},
  clip=false,
]
\addplot[only marks, mark=*, mark size=3.2pt, mark options={fill=lblue, draw=none}] coordinates {
(-60,0)(-58,0)(-56,0)(-54,0)(-52,0)(-50,0)(-48,0)(-46,0)(-44,0)(-42,0)(-40,0)(-38,0)(-36,0)(-34,0)(-32,0)(-30,0)(-28,0)(-26,0)(-24,0)(-22,0)(-20,0)(-18,0)(-16,0)(-14,0)(-12,0)(-10,0)(-8,0)(-6,0)(-4,0)(-2,0)(0,0)
(26.4,0)(36.1,0)(46.1,0)(56.2,0)(66.2,0)(76.1,0)(85.8,0.0195)(96.4,0.0285)(106.1,0.039)(115.9,0.048)(126,0.048)(136,0.07)(146.1,0.09)(156.3,0.06)(166.2,0.129)(176.2,0.138)(185.9,0.148)(196,0.148)(206,0.16)(216.1,0.169)(226.3,0.309)(236.4,0.138)(246,0.309)(255.9,0.219)(266,0.319)(276,0.319)(286.1,0.19)(296.1,0.299)(306.2,0.37)(316.2,0.28)(326.1,0.319)(336,0.4375)(346.2,0.50)(356.1,0.338)(366.1,0.346)(386,0.27)(395.9,0.26)(405.8,0.18)(415.8,0.129)(425.9,0.10)(435.9,0.07)(446,0.01)(455.9,0)(465.9,0)(476,0)(486,0)};
\draw[cyanline, line width=4pt] (axis cs:368,2.423) -- (axis cs:368,0);
\draw[black, line width=3.5pt, dash pattern=on 3.5pt off 2.5pt] (axis cs:86,2.4113) -- (axis cs:86,-0.0223);
\draw[black, line width=3.5pt, dash pattern=on 3.5pt off 2.5pt] (axis cs:446,2.4113) -- (axis cs:446,-0.0223);
\end{axis}
\end{tikzpicture}
\end{document}
